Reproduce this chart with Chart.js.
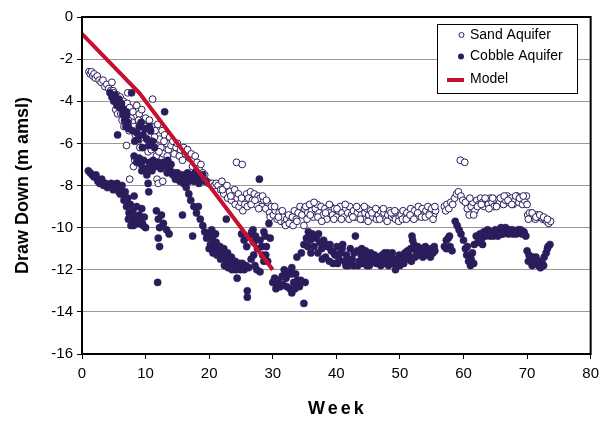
<!DOCTYPE html>
<html>
<head>
<meta charset="utf-8">
<script src="https://cdn.jsdelivr.net/npm/chart.js@4.4.1/dist/chart.umd.min.js"></script>
<style>
  html, body { margin: 0; padding: 0; background: #fff; }
</style>
</head>
<body>
<canvas id="drawdown-chart" width="605" height="423"></canvas>
<script>
"use strict";

// [week, draw down (m amsl)]
const sandAquifer = [
  [1.1,-2.6],[1.3,-2.7],[1.5,-2.6],[1.7,-2.8],[1.9,-2.7],[2.1,-2.9],[2.4,-2.8],[2.7,-3.0],[3.0,-3.1],[3.3,-3.0],
  [3.6,-3.3],[3.9,-3.2],[4.2,-3.4],[4.5,-3.5],[4.7,-3.1],[4.9,-3.5],
  [5.0,-3.6],[5.2,-3.9],[5.3,-4.4],[5.5,-3.7],[5.6,-4.6],[5.8,-4.0],[5.9,-4.3],[6.0,-3.8],[6.2,-4.2],[6.3,-4.9],
  [6.5,-4.0],[6.6,-5.2],[6.8,-4.4],[6.9,-4.7],[7.0,-6.1],[7.1,-4.1],[7.2,-3.6],[7.4,-5.4],[7.5,-4.3],[7.5,-7.7],
  [7.7,-4.8],[7.9,-5.0],[8.0,-4.5],[8.1,-7.1],[8.3,-6.8],[8.4,-5.6],[8.6,-4.2],[8.8,-5.3],[9.0,-4.6],[9.2,-5.8],
  [9.4,-4.4],[9.6,-5.1],[9.8,-6.0],[10.0,-4.8],[10.2,-5.5],[10.4,-6.4],[10.6,-4.9],[10.8,-5.7],[11.0,-5.2],[11.1,-3.9],
  [11.3,-6.0],[11.5,-5.4],[11.7,-6.6],[11.8,-7.7],[11.9,-5.1],[12.0,-7.9],[12.2,-5.8],[12.4,-6.2],[12.6,-5.4],[12.7,-7.8],
  [12.8,-6.5],[13.0,-5.6],[13.3,-6.0],[13.6,-6.3],[13.8,-5.7],
  [6.1,-4.6],[7.3,-4.9],[8.2,-5.2],[8.9,-4.9],[9.1,-6.2],[9.5,-5.5],[10.1,-5.2],[10.7,-6.1],[10.9,-6.3],[11.4,-5.7],
  [12.1,-6.4],[12.9,-5.9],[13.4,-6.6],
  [14.0,-6.1],[14.3,-5.9],[14.5,-6.5],[14.8,-6.2],[15.0,-6.0],[15.3,-6.6],[15.5,-6.3],[15.8,-6.8],[16.0,-6.2],[16.3,-6.5],
  [16.6,-6.3],[16.9,-6.7],[17.2,-6.5],[17.4,-7.1],[17.5,-6.8],[17.8,-6.6],[18.0,-7.3],[18.1,-6.9],[18.4,-7.2],[18.7,-7.0],
  [18.9,-7.6],[19.0,-7.4],[19.3,-7.5],[19.6,-7.8],[19.9,-7.9],[20.2,-7.9],[20.5,-7.9],[20.8,-8.0],[21.1,-7.9],[21.4,-8.0],
  [21.8,-8.2],[22.0,-7.8],[22.3,-8.4],[22.6,-8.1],[22.9,-8.6],[23.2,-8.3],[23.5,-8.7],[23.8,-8.5],[24.1,-8.9],[24.3,-6.9],
  [24.4,-8.6],[24.7,-9.0],[25.0,-8.8],[25.2,-7.0],[25.3,-9.2],[25.6,-8.9],[25.9,-8.4],[26.2,-8.6],[26.5,-8.3],[26.8,-8.7],
  [27.1,-8.4],[27.4,-8.9],[27.7,-8.5],[28.0,-8.6],[28.3,-9.0],[28.6,-8.7],[28.9,-9.1],[29.2,-8.8],[29.5,-9.3],[29.8,-9.0],
  [22.1,-8.2],[22.8,-8.0],[23.4,-8.5],[24.0,-8.2],[24.6,-8.4],[25.1,-8.6],[26.0,-9.0],[26.6,-8.9],[27.2,-8.7],[27.8,-9.1],
  [28.4,-8.5],[29.0,-8.7],[29.6,-9.5],
  [30.1,-9.4],[30.4,-9.2],[30.7,-9.6],[31.0,-9.3],[31.3,-9.7],[31.6,-9.5],[31.9,-9.8],[32.2,-9.6],[32.5,-9.4],[32.8,-9.7],
  [33.1,-9.5],[33.4,-9.2],[33.7,-9.6],[34.0,-9.3],[34.3,-9.0],[34.6,-9.4],[34.9,-9.9],[35.0,-9.1],
  [30.3,-9.0],[30.9,-9.5],[31.5,-9.2],[32.0,-9.9],[32.6,-9.8],[33.2,-9.9],[33.8,-9.7],
  [35.2,-9.0],[35.5,-9.3],[35.8,-8.9],[36.1,-9.2],[36.4,-9.5],[36.7,-9.1],[37.0,-8.9],[37.3,-9.3],[37.6,-9.0],[37.9,-9.4],
  [38.2,-9.1],[38.5,-9.6],[38.8,-9.2],[39.1,-9.0],[39.4,-9.4],[39.7,-9.1],[40.0,-9.5],[40.3,-9.2],[40.6,-9.0],[40.9,-9.3],
  [41.2,-9.5],[41.5,-9.1],[41.8,-9.3],[42.1,-9.0],[42.4,-9.4],[42.7,-9.2],[43.0,-9.5],[43.3,-9.3],[43.6,-9.1],[43.9,-9.4],
  [44.2,-9.6],[44.5,-9.3],[44.8,-9.1],[45.1,-9.4],[45.4,-9.2],[45.7,-9.5],[46.0,-9.3],[46.3,-9.6],[46.6,-9.4],[46.9,-9.2],
  [47.2,-9.5],[47.5,-9.3],[47.8,-9.6],[48.1,-9.4],[48.4,-9.2],[48.7,-9.5],[49.0,-9.4],[49.3,-9.6],[49.6,-9.3],[49.9,-9.5],
  [50.2,-9.4],[50.5,-9.2],[50.8,-9.5],[51.1,-9.3],[51.4,-9.5],[51.7,-9.1],[52.0,-9.4],[52.3,-9.2],[52.6,-9.5],[52.9,-9.0],
  [53.2,-9.3],[53.5,-9.1],[53.8,-9.4],[54.1,-9.2],[54.4,-9.0],[54.7,-9.3],[55.0,-9.1],[55.3,-9.4],[55.6,-9.2],
  [35.4,-9.6],[35.9,-9.4],[36.5,-8.8],[37.1,-9.5],[37.7,-9.7],[38.3,-9.3],[38.9,-8.9],[39.6,-9.6],[40.1,-9.1],[40.8,-9.6],
  [41.4,-8.9],[42.0,-9.6],[42.6,-9.5],[43.2,-9.0],[43.8,-9.6],[44.4,-9.0],[45.0,-9.7],[45.6,-9.3],[46.2,-9.1],[46.8,-9.6],
  [47.4,-9.1],[48.0,-9.7],[48.6,-9.3],[49.2,-9.2],[49.8,-9.7],[50.4,-9.6],[51.0,-9.6],[51.6,-9.4],[52.2,-9.6],[52.8,-9.3],
  [53.4,-9.5],[54.0,-9.5],[54.6,-9.4],[55.2,-9.6],[55.5,-9.0],
  [57.0,-9.0],[57.2,-9.2],[57.4,-8.9],[57.7,-9.1],[58.0,-8.8],[58.3,-8.9],[58.6,-8.6],[58.9,-8.4],[59.2,-8.3],[59.5,-6.8],
  [59.6,-8.5],[59.9,-8.7],[60.2,-6.9],[60.3,-8.8],[60.6,-9.1],[60.9,-9.4],[61.2,-9.0],[61.5,-8.8],[61.8,-9.2],[62.1,-8.7],
  [62.4,-8.9],[62.7,-8.6],[63.0,-8.8],[63.3,-9.0],[63.6,-8.7],[63.9,-8.9],[64.2,-8.6],[64.5,-8.8],[64.8,-9.0],[65.1,-8.7],
  [65.4,-8.9],[65.7,-8.8],[66.0,-8.6],[66.3,-8.9],[66.6,-8.7],[66.9,-8.5],[67.2,-8.8],[67.5,-8.6],[67.8,-8.9],[68.1,-8.7],
  [68.4,-8.5],[68.7,-8.8],[69.0,-8.6],[69.3,-8.9],[69.6,-8.7],[69.9,-8.5],[70.1,-9.4],[70.4,-9.3],[70.7,-9.5],[71.0,-9.4],
  [71.3,-9.6],[71.6,-9.4],[71.9,-9.5],[72.2,-9.5],[72.5,-9.6],[72.8,-9.6],[73.1,-9.7],[73.4,-9.8],[73.7,-9.7],
  [61.0,-8.6],[61.6,-9.4],[62.2,-9.0],[62.8,-8.9],[63.4,-8.6],[64.0,-9.1],[64.6,-8.6],[65.2,-9.0],[65.8,-8.6],[66.4,-8.5],
  [67.0,-8.7],[67.6,-8.9],[68.2,-8.5],[68.8,-8.6],[69.4,-8.5],[70.0,-8.9],[70.2,-9.6],[70.8,-9.3],[71.4,-9.5],[72.0,-9.4],
  [72.6,-9.5],[73.2,-9.6]
];

const cobbleAquifer = [
  [1.0,-7.3],[1.3,-7.4],[1.6,-7.5],[1.9,-7.6],[2.2,-7.5],[2.5,-7.8],[2.8,-7.9],[3.1,-7.7],[3.4,-8.0],[3.7,-7.9],
  [4.0,-8.1],[4.3,-8.0],[4.6,-7.9],[4.9,-8.2],[5.2,-8.1],[5.5,-7.9],[5.8,-8.3],[6.1,-8.1],[6.4,-8.4],[6.6,-8.7],
  [6.8,-8.3],[7.0,-9.0],[7.2,-8.6],[7.4,-9.3],[7.6,-8.9],[7.8,-9.6],[8.0,-9.2],[8.2,-8.5],[8.4,-9.5],[8.6,-9.0],
  [8.8,-9.8],[9.0,-9.4],[9.2,-9.7],[9.4,-9.1],[9.6,-9.9],[9.8,-9.5],[10.0,-10.0],
  [6.0,-8.4],[6.3,-8.0],[6.9,-8.7],[7.3,-9.6],[7.7,-9.9],[8.1,-9.9],[8.5,-9.7],[9.1,-9.6],[9.5,-9.8],
  [4.4,-3.6],[4.7,-3.8],[5.0,-4.0],[5.2,-3.7],[5.5,-4.2],[5.6,-5.6],[5.8,-3.9],[6.0,-4.3],[6.2,-4.1],[6.4,-4.6],
  [6.5,-4.4],[6.7,-4.9],[6.9,-5.2],[7.0,-4.7],[7.2,-5.0],[7.8,-3.6],[8.0,-5.4],[8.3,-5.9],[8.6,-5.5],[9.0,-5.2],
  [9.3,-5.0],[9.6,-5.6],[9.9,-5.3],[10.2,-5.8],[10.5,-6.1],[10.8,-5.4],[11.1,-5.9],[13.0,-4.5],
  [7.0,-4.5],[7.4,-5.3],[8.8,-5.8],[9.5,-6.2],[10.6,-5.2],[11.4,-6.2],
  [8.2,-6.6],[8.6,-6.9],[9.0,-6.7],[9.3,-7.0],[9.7,-6.8],[10.0,-7.2],[10.2,-7.5],[10.4,-7.9],[10.5,-8.3],[10.8,-7.0],
  [11.2,-6.8],[11.6,-7.1],[12.0,-6.9],[12.4,-7.2],[12.8,-6.9],[13.2,-7.1],[13.5,-6.8],[13.9,-7.3],[14.3,-7.5],[14.7,-7.7],
  [15.0,-7.4],[15.4,-7.8],[15.8,-7.5],[16.2,-7.7],[16.6,-7.4],[17.0,-7.6],[17.4,-7.5],[17.8,-7.4],[18.2,-7.6],[18.6,-7.7],
  [19.0,-7.5],[19.4,-7.8],
  [10.6,-6.9],[11.0,-7.3],[9.4,-7.3],[12.2,-7.0],[13.4,-7.4],[14.0,-7.0],[14.6,-7.4],[15.2,-7.7],[16.0,-7.9],[16.8,-7.8],
  [17.6,-7.8],[18.4,-7.9],
  [11.7,-9.2],[12.0,-9.6],[12.2,-10.0],[12.0,-10.5],[12.2,-10.9],[11.9,-12.6],[12.5,-9.4],[12.8,-9.8],[13.3,-10.1],[13.7,-10.3],
  [15.8,-9.4],
  [16.4,-8.1],[16.8,-8.4],[17.1,-8.7],[17.4,-10.4],[17.6,-9.0],[18.0,-9.3],[18.3,-9.0],[18.6,-9.6],[19.0,-9.9],[19.3,-10.2],
  [19.6,-10.5],[19.9,-10.3],[20.2,-10.8],[20.5,-10.5],[20.8,-11.0],[21.1,-10.7],[21.4,-11.1],[21.7,-10.9],[22.0,-11.3],[22.3,-11.0],
  [22.6,-11.5],[22.7,-9.6],[22.9,-11.2],[23.2,-11.7],[23.5,-11.4],[23.8,-11.9],[24.1,-11.6],[24.4,-12.4],[24.6,-11.8],[24.9,-12.0],
  [25.2,-11.7],[25.5,-12.0],[25.8,-11.8],[26.0,-13.0],[26.0,-13.3],
  [20.0,-11.0],[20.6,-11.2],[21.2,-11.3],[21.8,-11.5],[22.4,-11.8],[23.0,-11.9],[23.6,-12.0],[24.2,-12.0],[24.8,-11.7],[26.2,-11.9],
  [27.0,-11.3],[27.5,-12.0],[28.4,-11.3],[29.0,-10.9],[26.9,-10.1],[28.8,-10.4],[20.4,-10.1],[21.0,-10.3],
  [25.1,-10.3],[25.5,-10.6],[25.9,-10.9],[26.3,-10.4],[26.7,-10.2],[27.0,-10.7],[27.3,-10.4],[27.6,-11.0],[27.9,-7.7],[28.0,-10.6],
  [28.3,-10.9],[28.6,-10.2],[28.9,-11.3],[29.2,-11.6],[29.4,-9.8],[29.6,-10.5],[26.6,-11.5],[27.2,-11.8],[28.0,-12.1],[28.6,-11.6],
  [30.0,-12.6],[30.3,-12.4],[30.6,-12.7],[30.9,-12.5],[31.2,-12.8],[31.5,-12.3],[31.8,-12.0],[32.1,-12.4],[32.4,-12.1],[32.7,-12.9],
  [33.0,-13.1],[33.3,-12.6],[33.6,-12.2],[33.8,-11.4],[33.9,-12.5],[34.2,-12.8],[34.9,-13.6],[35.1,-12.6],
  [30.5,-12.9],[31.0,-12.8],[31.6,-12.7],[32.2,-12.8],[32.9,-12.2],[33.5,-12.9],[34.4,-12.5],[33.0,-11.9],
  [34.5,-11.2],[34.9,-10.8],[35.3,-10.5],[35.6,-10.2],[35.9,-10.6],[36.2,-10.3],[36.5,-10.9],[36.8,-10.5],[37.1,-11.2],[37.4,-10.7],
  [37.7,-11.0],[38.0,-10.6],[38.3,-11.4],[38.6,-10.9],[38.9,-11.6],[39.2,-11.1],[39.5,-11.7],[39.8,-11.3],[40.1,-10.9],[40.4,-11.5],
  [40.7,-11.2],[41.0,-10.8],[41.3,-11.6],[41.6,-11.3],[41.9,-11.8],[42.2,-11.0],[42.5,-11.5],[42.8,-11.2],[43.0,-10.4],[43.3,-11.1],
  [43.6,-11.6],[43.9,-11.3],[44.2,-11.7],[44.5,-11.4],[44.8,-11.8],[45.1,-11.5],[45.4,-11.2],[45.7,-11.6],[46.0,-11.3],[46.3,-11.7],
  [46.6,-11.4],[46.9,-11.6],[47.2,-11.3],[47.5,-11.7],[47.8,-11.5],[48.1,-11.2],[48.4,-11.6],[48.7,-11.4],[49.0,-11.7],[49.3,-12.0],
  [49.6,-11.5],[49.9,-11.3],[50.2,-11.6],[50.5,-11.4],[50.8,-11.2],[51.1,-11.5],[51.4,-11.3],[51.7,-11.0],[51.9,-10.4],[52.2,-10.8],
  [52.5,-11.1],[52.8,-10.9],[53.1,-11.3],[53.4,-11.0],[53.7,-11.2],[54.0,-10.9],[54.3,-11.1],[54.6,-11.3],[54.9,-11.0],[55.2,-11.2],
  [55.5,-11.1],
  [35.5,-10.9],[36.0,-11.2],[36.6,-10.4],[37.2,-10.3],[37.8,-11.5],[38.4,-10.8],[39.0,-10.8],[39.6,-11.2],[40.2,-11.7],[40.9,-11.0],
  [41.5,-11.8],[42.1,-11.6],[42.7,-11.8],[43.4,-11.8],[44.0,-11.0],[44.6,-11.1],[45.2,-11.8],[45.8,-11.4],[46.4,-11.5],[47.0,-11.8],
  [47.6,-11.2],[48.2,-11.8],[48.8,-11.2],[49.4,-11.6],[50.0,-11.8],[50.6,-11.7],[51.2,-11.1],[51.8,-11.6],[52.0,-10.6],[52.4,-11.4],
  [53.0,-11.1],[53.6,-11.4],[54.2,-11.3],[54.8,-11.4],[55.4,-10.9],
  [57.0,-10.9],[57.3,-10.6],[57.6,-10.5],[57.9,-10.9],[58.2,-11.1],[58.7,-9.7],[59.0,-9.9],[59.3,-10.1],[59.6,-10.3],[60.0,-10.6],
  [60.3,-11.0],[60.5,-11.3],[60.8,-11.6],[61.1,-11.8],[61.4,-11.2],[61.7,-10.8],[62.0,-10.4],[62.3,-10.7],[62.6,-10.3],[62.9,-10.5],
  [63.2,-10.2],[63.5,-10.4],[63.8,-10.1],[64.1,-10.3],[64.4,-10.2],[64.7,-10.4],[65.0,-10.1],[65.3,-10.3],[65.6,-10.2],[65.9,-10.0],
  [66.2,-10.3],[66.5,-10.2],[66.8,-10.1],[67.1,-10.3],[67.4,-10.2],[67.7,-10.1],[68.0,-10.2],[68.3,-10.3],[68.6,-10.1],[68.9,-10.2],
  [69.2,-10.3],[69.5,-10.2],[69.8,-10.4],[70.0,-11.1],[70.3,-11.3],[70.6,-11.5],[70.9,-11.4],[71.2,-11.7],[71.5,-11.6],[71.8,-11.8],
  [72.1,-11.9],[72.4,-11.7],[72.7,-11.4],[73.0,-11.2],[73.3,-10.9],[73.6,-10.8],
  [57.3,-11.0],[57.8,-10.4],[60.6,-10.9],[61.2,-11.5],[61.6,-11.7],[62.5,-10.6],[63.0,-10.8],[63.6,-10.3],[64.2,-10.4],[64.8,-10.2],
  [65.4,-10.4],[66.0,-10.3],[66.6,-10.0],[67.2,-10.1],[67.8,-10.3],[68.4,-10.2],[69.0,-10.1],[69.6,-10.3],[70.2,-11.6],[70.8,-11.8],
  [71.4,-11.4],[72.0,-11.6],[72.6,-11.8],[73.2,-11.0]
];

const modelLine = [[0, -0.8], [9, -3.6], [30, -12]];

const weekTicks = [0, 10, 20, 30, 40, 50, 60, 70, 80];
const drawDownTicks = [0, -2, -4, -6, -8, -10, -12, -14, -16];

const NAVY = "#2b1d5c";
const RED = "#c8102e";
const FONT = "'Liberation Sans', Arial, sans-serif";

const toXY = (pairs) => pairs.map(([x, y]) => ({ x, y }));

const frameAndLegend = {
  id: "frameAndLegend",
  afterDraw(chart) {
    const { ctx, chartArea } = chart;
    ctx.save();

    // plot frame
    ctx.strokeStyle = "#000";
    ctx.lineWidth = 2;
    ctx.strokeRect(chartArea.left, chartArea.top, chartArea.right - chartArea.left, chartArea.bottom - chartArea.top);

    // x axis title with wide spacing
    ctx.fillStyle = "#000";
    ctx.font = `bold 18px ${FONT}`;
    ctx.textAlign = "center";
    ctx.textBaseline = "middle";
    if ("letterSpacing" in ctx) ctx.letterSpacing = "3px";
    ctx.fillText("Week", (chartArea.left + chartArea.right) / 2 + 1, 409);
    if ("letterSpacing" in ctx) ctx.letterSpacing = "0px";

    // legend box
    ctx.fillStyle = "#fff";
    ctx.fillRect(437.5, 24.5, 140, 69);
    ctx.strokeStyle = "#000";
    ctx.lineWidth = 1;
    ctx.strokeRect(437.5, 24.5, 140, 69);

    ctx.font = `14px ${FONT}`;
    ctx.textAlign = "left";

    ctx.beginPath();
    ctx.arc(461.5, 35, 2.5, 0, Math.PI * 2);
    ctx.fillStyle = "#fff";
    ctx.fill();
    ctx.strokeStyle = NAVY;
    ctx.stroke();
    ctx.fillStyle = "#000";
    ctx.fillText("Sand Aquifer", 470, 35);

    ctx.beginPath();
    ctx.arc(461, 56.5, 3, 0, Math.PI * 2);
    ctx.fillStyle = NAVY;
    ctx.fill();
    ctx.fillStyle = "#000";
    ctx.fillText("Cobble Aquifer", 470, 56);

    ctx.strokeStyle = RED;
    ctx.lineWidth = 4;
    ctx.beginPath();
    ctx.moveTo(447, 80);
    ctx.lineTo(464, 80);
    ctx.stroke();
    ctx.fillText("Model", 470, 79);

    ctx.restore();
  }
};

new Chart(document.getElementById("drawdown-chart"), {
  type: "scatter",
  data: {
    datasets: [
      {
        label: "Model",
        data: toXY(modelLine),
        showLine: true,
        borderColor: RED,
        borderWidth: 4,
        pointRadius: 0,
        tension: 0
      },
      {
        label: "Cobble Aquifer",
        data: toXY(cobbleAquifer),
        pointRadius: 3.6,
        pointBackgroundColor: NAVY,
        pointBorderColor: NAVY,
        pointBorderWidth: 0.5
      },
      {
        label: "Sand Aquifer",
        data: toXY(sandAquifer),
        pointRadius: 3.4,
        pointBackgroundColor: "#fff",
        pointBorderColor: NAVY,
        pointBorderWidth: 1
      }
    ]
  },
  options: {
    responsive: false,
    animation: false,
    events: [],
    layout: { padding: { left: 0, right: 12, top: 17, bottom: 0 } },
    plugins: {
      legend: { display: false },
      tooltip: { enabled: false }
    },
    scales: {
      x: {
        type: "linear",
        min: 0,
        max: 80,
        afterBuildTicks: (scale) => { scale.ticks = weekTicks.map((value) => ({ value })); },
        afterFit: (scale) => { scale.height = 69; },
        grid: { drawOnChartArea: false, tickLength: 5, tickColor: "#000", tickWidth: 1 },
        border: { color: "#000", width: 2 },
        ticks: { color: "#000", font: { family: FONT, size: 15 }, padding: 6, maxRotation: 0 }
      },
      y: {
        type: "linear",
        min: -16,
        max: 0,
        afterBuildTicks: (scale) => { scale.ticks = drawDownTicks.map((value) => ({ value })); },
        afterFit: (scale) => { scale.width = 82; },
        grid: { color: "#9a9a9a", lineWidth: 1, tickLength: 5, tickColor: "#000", tickWidth: 1 },
        border: { color: "#000", width: 2 },
        ticks: { color: "#000", font: { family: FONT, size: 15 }, padding: 4 },
        title: {
          display: true,
          text: "Draw Down (m amsl)",
          color: "#000",
          font: { family: FONT, size: 18, weight: "bold" },
          padding: { top: 12, bottom: 0 }
        }
      }
    }
  },
  plugins: [frameAndLegend]
});
</script>
</body>
</html>
